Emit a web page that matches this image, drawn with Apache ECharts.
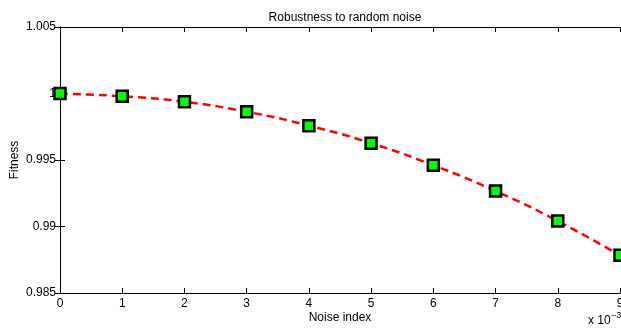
<!DOCTYPE html>
<html>
<head>
<meta charset="utf-8">
<script src="https://cdn.jsdelivr.net/npm/echarts@6/dist/echarts.min.js"></script>
<style>
  html, body { margin: 0; padding: 0; background: #fff; }
  #chart { width: 621px; height: 331px; }
</style>
</head>
<body>
<div id="chart"></div>
<script>
// 噪声指数 (x 10^-3)
const noiseIndex = [0, 1, 2, 3, 4, 5, 6, 7, 8, 9];
// 适应度
const fitness = [1.0000, 0.99979, 0.99938, 0.99863, 0.99758, 0.99626, 0.99460, 0.99267, 0.99041, 0.98783];

const chart = echarts.init(document.getElementById('chart'));
const font = 'Liberation Sans, Arial, Helvetica, sans-serif';

const axisLine = { show: true, lineStyle: { color: '#000', width: 1 } };
const axisTick = { show: true, inside: true, length: 5, lineStyle: { color: '#000' } };

const option = {
  animation: false,
  title: {
    text: 'Robustness to random noise',
    left: 340, top: 7, textAlign: 'center',
    textStyle: { fontFamily: font, fontSize: 12, fontWeight: 'normal', color: '#000' }
  },
  grid: { left: 60, right: 1, top: 27, bottom: 38, containLabel: false, outerBoundsMode: 'none' },
  xAxis: [
    {
      type: 'value', min: 0, max: 9, interval: 1,
      name: 'Noise index', nameLocation: 'middle', nameGap: 19, nameMoveOverlap: false,
      nameTextStyle: { fontFamily: font, fontSize: 12, color: '#000' },
      axisLine, axisTick, splitLine: { show: false },
      axisLabel: { fontFamily: font, fontSize: 12, color: '#000', margin: 5 }
    },
    {
      type: 'value', min: 0, max: 9, interval: 1, position: 'top',
      axisLine, axisTick, splitLine: { show: false }, axisLabel: { show: false }
    }
  ],
  yAxis: [
    {
      type: 'value', min: 0.985, max: 1.005, interval: 0.005,
      name: 'Fitness', nameLocation: 'middle', nameGap: 39, nameRotate: 90, nameMoveOverlap: false,
      nameTextStyle: { fontFamily: font, fontSize: 12, color: '#000' },
      axisLine, axisTick, splitLine: { show: false },
      axisLabel: { fontFamily: font, fontSize: 12, color: '#000', margin: 4 }
    },
    {
      type: 'value', min: 0.985, max: 1.005, interval: 0.005, position: 'right',
      axisLine, axisTick, splitLine: { show: false }, axisLabel: { show: false }
    }
  ],
  graphic: [
    {
      type: 'text', left: 588, top: 315,
      style: { text: 'x 10', font: '12px ' + font, fill: '#000' }
    },
    {
      type: 'text', left: 611, top: 311,
      style: { text: '−3', font: '9px ' + font, fill: '#000' }
    }
  ],
  series: [
    {
      type: 'line',
      data: noiseIndex.map((x, i) => [x, fitness[i]]),
      smooth: true,
      clip: false,
      symbol: 'rect',
      symbolSize: 11,
      lineStyle: { color: '#ff0000', width: 2.5, type: [8, 5] },
      itemStyle: { color: '#00ff00', borderColor: '#000', borderWidth: 2.5 },
      z: 5
    }
  ]
};

chart.setOption(option);

window.addEventListener('resize', () => {
  chart.resize();
});
</script>
</body>
</html>
